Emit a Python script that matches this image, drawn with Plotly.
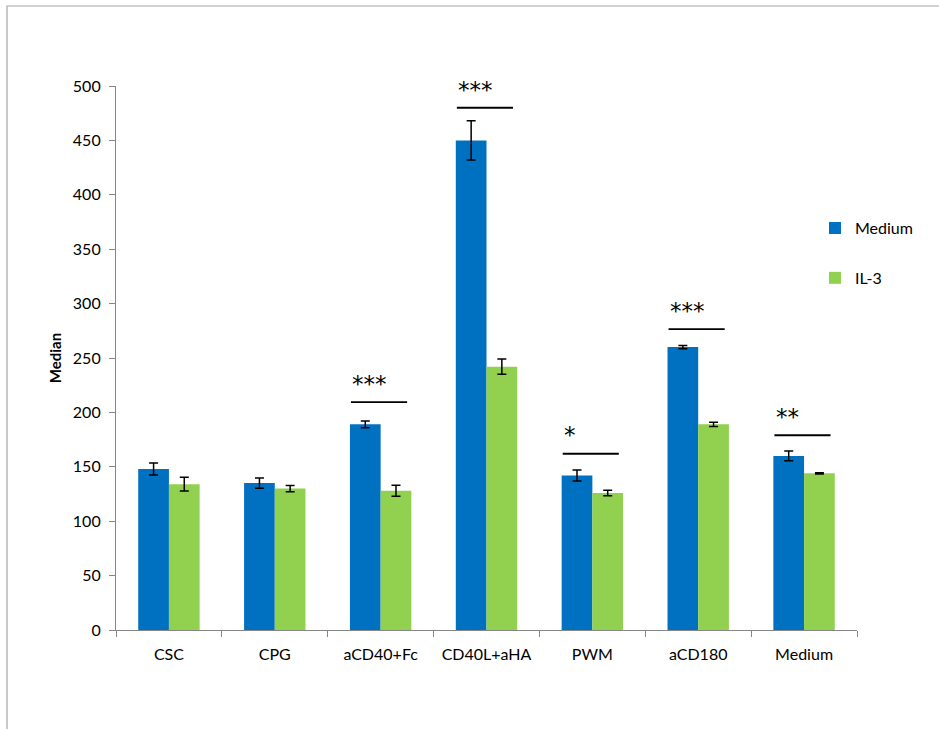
import plotly.graph_objects as go

categories = ["CSC", "CPG", "aCD40+Fc", "CD40L+aHA", "PWM", "aCD180", "Medium"]
medium_vals = [148, 135, 189, 450, 142, 260, 160]
medium_err = [5.5, 4.7, 3, 18, 5, 1.5, 4.5]
il3_vals = [134, 130, 128, 242, 126, 189, 144]
il3_err = [6.3, 2.9, 5, 7, 2.5, 2, 0.6]
tick_vals = [0, 50, 100, 150, 200, 250, 300, 350, 400, 450, 500]

sig_index = [2, 3, 4, 5, 6]
sig_line_y = [209.5, 480, 162, 276.5, 179]
sig_labels = ["***", "***", "*", "***", "**"]

FONT = "Lato, 'Open Sans', sans-serif"
BLUE = "#0070C0"
GREEN = "#92D050"

fig = go.Figure()
fig.add_trace(go.Bar(
    x=categories, y=medium_vals, name="Medium", marker_color=BLUE,
    marker_line_width=0, legendgroup="a",
    error_y=dict(type="data", array=medium_err, color="black", thickness=1.5, width=4.5),
))
fig.add_trace(go.Bar(
    x=categories, y=il3_vals, name="IL-3", marker_color=GREEN,
    marker_line_width=0, legendgroup="b",
    error_y=dict(type="data", array=il3_err, color="black", thickness=1.5, width=4.5),
))

for i, yv, lab in zip(sig_index, sig_line_y, sig_labels):
    fig.add_shape(type="line", xref="x", yref="y", x0=i - 0.28, x1=i + 0.25,
                  y0=yv, y1=yv, line=dict(color="black", width=1.8))
    fig.add_annotation(x=i - 0.285, y=yv + 3, xref="x", yref="y", text=lab,
                       showarrow=False, xanchor="left", yanchor="bottom",
                       font=dict(family="DejaVu Sans", size=23, color="black"))

# outer chart border
fig.add_shape(type="rect", xref="paper", yref="paper",
              x0=(7 - 116) / 741, x1=3, y0=-3, y1=1 + (86 - 6) / 544,
              line=dict(color="#a6a6a6", width=1.2), fillcolor="rgba(0,0,0,0)")

fig.update_layout(
    width=939, height=729,
    margin=dict(l=116, r=82, t=86, b=99),
    plot_bgcolor="white", paper_bgcolor="white",
    barmode="group", bargap=0.42, bargroupgap=0,
    font=dict(family=FONT, size=16, color="black"),
    showlegend=True,
    legend=dict(x=(815 - 116) / 741, y=0.77, xanchor="left", yanchor="top",
                traceorder="grouped", tracegroupgap=26,
                font=dict(family=FONT, size=16, color="black"),
                itemwidth=30, bgcolor="rgba(0,0,0,0)"),
    xaxis=dict(showline=True, linecolor="#868686", linewidth=1.2,
               ticks="outside", tickson="boundaries", ticklen=6, tickcolor="#868686",
               tickfont=dict(size=16), showgrid=False, ticklabelstandoff=10),
    yaxis=dict(range=[0, 500], tickvals=tick_vals, showline=True, linecolor="#868686",
               linewidth=1.2, ticks="outside", ticklen=6, tickcolor="#868686",
               showgrid=False, zeroline=False, tickfont=dict(size=16),
               ticklabelstandoff=5,
               title=dict(text="<b>Median</b>", font=dict(size=15), standoff=7)),
)

fig.write_html("out.html")
